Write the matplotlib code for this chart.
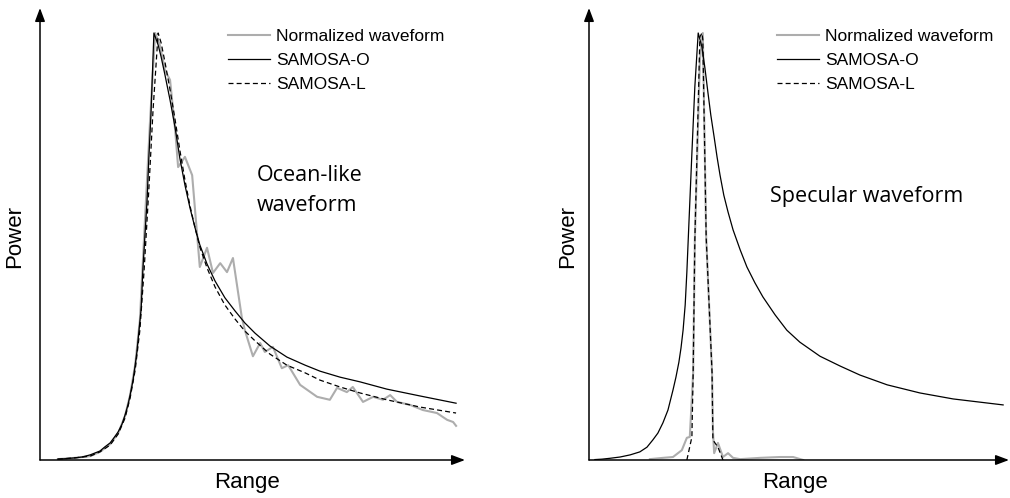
import matplotlib
matplotlib.use('Agg')
import matplotlib.pyplot as plt

# range gate (arbitrary units) and normalized power
# --- ocean-like waveform (left) ---
ocean_wf_x = [4.2, 8.2, 11.8, 14.1, 16.5, 18.4, 20.0, 21.2, 22.4, 23.5, 24.7, 25.9, 27.1,
              28.2, 29.4, 30.6, 31.8, 32.5, 34.1, 35.8, 37.6, 39.3, 40.7, 42.4, 44.0, 45.4,
              47.5, 48.2, 50.1, 51.8, 52.9, 54.8, 56.9, 58.4, 61.2, 65.2, 68.2, 69.9, 72.2,
              73.6, 76.0, 78.4, 80.7, 82.4, 84.0, 87.1, 90.1, 93.4, 95.8, 97.2, 97.9]
ocean_wf_y = [0.002, 0.005, 0.009, 0.019, 0.037, 0.063, 0.103, 0.152, 0.223, 0.328, 0.562,
              0.796, 1.0, 0.972, 0.913, 0.890, 0.773, 0.686, 0.710, 0.667, 0.452, 0.497,
              0.438, 0.461, 0.440, 0.473, 0.333, 0.304, 0.243, 0.274, 0.253, 0.265, 0.215,
              0.222, 0.176, 0.148, 0.141, 0.169, 0.159, 0.171, 0.136, 0.148, 0.141, 0.152,
              0.136, 0.129, 0.117, 0.110, 0.094, 0.089, 0.080]

ocean_o_x = [4.2, 5.9, 8.2, 9.9, 11.8, 14.1, 15.3, 16.5, 17.4, 18.4, 19.3, 20.0, 20.7,
             21.2, 21.9, 22.4, 22.8, 23.3, 23.8, 24.2, 24.7, 25.2, 25.6, 26.1, 26.8,
             27.8, 28.5, 29.4, 30.6, 31.8, 32.9, 34.1, 35.3, 36.5, 37.6, 39.3, 41.2,
             43.5, 45.9, 48.2, 50.6, 54.1, 58.1, 62.4, 65.9, 70.6, 75.3, 81.6, 89.4, 97.9]
ocean_o_y = [0.002, 0.003, 0.005, 0.007, 0.012, 0.021, 0.031, 0.040, 0.052, 0.066, 0.084,
             0.105, 0.129, 0.152, 0.187, 0.223, 0.253, 0.304, 0.354, 0.445, 0.527, 0.609,
             0.705, 0.808, 1.0,
             0.972, 0.944, 0.902, 0.843, 0.778, 0.707, 0.644, 0.590, 0.543, 0.504, 0.459,
             0.419, 0.380, 0.349, 0.321, 0.297, 0.267, 0.241, 0.222, 0.208, 0.194, 0.183,
             0.166, 0.150, 0.133]

ocean_l_x = [4.2, 8.2, 11.8, 14.1, 16.5, 18.4, 20.0, 21.2, 22.4, 23.5, 24.5, 25.6, 26.6,
             27.8, 28.5, 29.4, 30.6, 31.8, 32.9, 34.1, 35.3, 36.5, 37.6, 39.3, 41.2, 43.5,
             45.9, 48.2, 50.6, 54.1, 58.1, 62.4, 65.9, 70.6, 75.3, 81.6, 89.4, 97.9]
ocean_l_y = [0.002, 0.005, 0.009, 0.019, 0.035, 0.061, 0.098, 0.145, 0.211, 0.304, 0.445,
             0.632, 0.820, 1.0,
             0.977, 0.932, 0.867, 0.796, 0.726, 0.656, 0.595, 0.543, 0.499, 0.450, 0.405,
             0.363, 0.330, 0.302, 0.279, 0.248, 0.222, 0.204, 0.187, 0.171, 0.157, 0.141,
             0.124, 0.110]

# --- specular waveform (right) ---
spec_wf_x = [14.5, 17.6, 20.0, 22.1, 23.3, 24.0, 24.8, 25.2, 26.4, 27.1, 27.9, 29.3, 29.5,
             29.8, 30.7, 31.9, 33.1, 34.3, 36.0, 40.7, 45.5, 48.6, 51.0]
spec_wf_y = [0.002, 0.005, 0.007, 0.023, 0.052, 0.054, 0.204, 0.515, 0.937, 1.0, 0.522,
             0.204, 0.070, 0.016, 0.040, 0.007, 0.016, 0.005, 0.002, 0.005, 0.007, 0.007, 0.0]

spec_o_x = [1.4, 3.1, 5.0, 7.4, 9.8, 12.1, 13.8, 15.2, 16.4, 17.6, 18.8, 20.0, 20.7, 21.4,
            21.9, 22.4, 22.9, 23.3, 23.8, 24.5, 25.2, 26.0,
            26.9, 27.6, 28.3, 29.0, 29.8, 30.5, 31.2, 32.1, 33.1, 34.3, 36.0, 37.6, 39.5,
            41.4, 44.3, 47.1, 50.2, 55.0, 59.8, 64.5, 71.0, 78.8, 86.7, 98.6]
spec_o_y = [0.001, 0.002, 0.004, 0.007, 0.012, 0.019, 0.030, 0.047, 0.063, 0.087, 0.117,
            0.164, 0.194, 0.229, 0.262, 0.304, 0.363, 0.440, 0.557, 0.719, 0.874, 1.0,
            0.967, 0.918, 0.862, 0.808, 0.756, 0.709, 0.667, 0.620, 0.581, 0.539, 0.492,
            0.452, 0.415, 0.382, 0.340, 0.304, 0.276, 0.243, 0.220, 0.199, 0.176, 0.157,
            0.143, 0.129]

spec_l_x = [23.3, 24.5, 24.8, 25.2, 26.4, 26.9, 27.1, 27.9, 29.3, 29.5, 30.7, 31.9]
spec_l_y = [0.0, 0.054, 0.204, 0.515, 0.991, 1.0, 0.984, 0.522, 0.204, 0.047, 0.030, 0.0]

panels = [
    (ocean_wf_x, ocean_wf_y, ocean_o_x, ocean_o_y, ocean_l_x, ocean_l_y),
    (spec_wf_x, spec_wf_y, spec_o_x, spec_o_y, spec_l_x, spec_l_y),
]
labels = ['Normalized waveform', 'SAMOSA-O', 'SAMOSA-L']

W, H = 1010, 498
fig = plt.figure(figsize=(W / 100, H / 100), dpi=100)
sans = 'Liberation Sans'

# axes boxes in pixels: left edge, tip of the x arrow
boxes = [(40, 465), (589, 1009)]
y0, ytop = 460, 8

for i, (box, d) in enumerate(zip(boxes, panels)):
    x0, x1 = box
    ax = fig.add_axes([x0 / W, 1 - y0 / H, (x1 - x0) / W, (y0 - ytop) / H])
    ax.plot(d[0], d[1], color='#adadad', lw=1.5, label=labels[0])
    ax.plot(d[2], d[3], color='black', lw=0.9, label=labels[1])
    ax.plot(d[4], d[5], color='black', lw=0.9, dashes=(4, 2.5), label=labels[2])
    ax.set_xlim(0, 100)
    ax.set_ylim(0, (y0 - ytop) / 427)
    for s in ax.spines.values():
        s.set_visible(False)
    ax.set_xticks([])
    ax.set_yticks([])
    ax.patch.set_alpha(0)
    arrow = dict(arrowstyle='-|>,head_length=0.8,head_width=0.3', color='black',
                 lw=1.1, shrinkA=0, shrinkB=0)
    ax.annotate('', xy=(1, 0), xytext=(0, 0), xycoords='axes fraction', arrowprops=arrow)
    ax.annotate('', xy=(0, 1), xytext=(0, 0), xycoords='axes fraction', arrowprops=arrow)

    leg_x = [228, 777][i]
    ax.legend(loc='upper left', bbox_to_anchor=(leg_x / W, 1 - 29 / H),
              bbox_transform=fig.transFigure, frameon=False, borderpad=0,
              borderaxespad=0, handlelength=2.4, handletextpad=0.35,
              labelspacing=0.5, prop={'family': sans, 'size': 12.5})

    cx = [15, 568][i]
    fig.text(cx / W, 1 - 237 / H, 'Power', rotation=90, ha='center', va='center',
             family=sans, fontsize=16)
    rx = [247, 795][i]
    fig.text(rx / W, 1 - 482 / H, 'Range', ha='center', va='center',
             family=sans, fontsize=16)

    if i == 0:
        ax.text(51.1, 0.667, 'Ocean-like', ha='left', va='center',
                family='Open Sans', fontsize=15.5)
        ax.text(51.1, 0.597, 'waveform', ha='left', va='center',
                family='Open Sans', fontsize=15.5)
    else:
        ax.text(43.1, 0.616, 'Specular waveform', ha='left', va='center',
                family='Open Sans', fontsize=15.5)

fig.savefig('out.png', dpi=100)
